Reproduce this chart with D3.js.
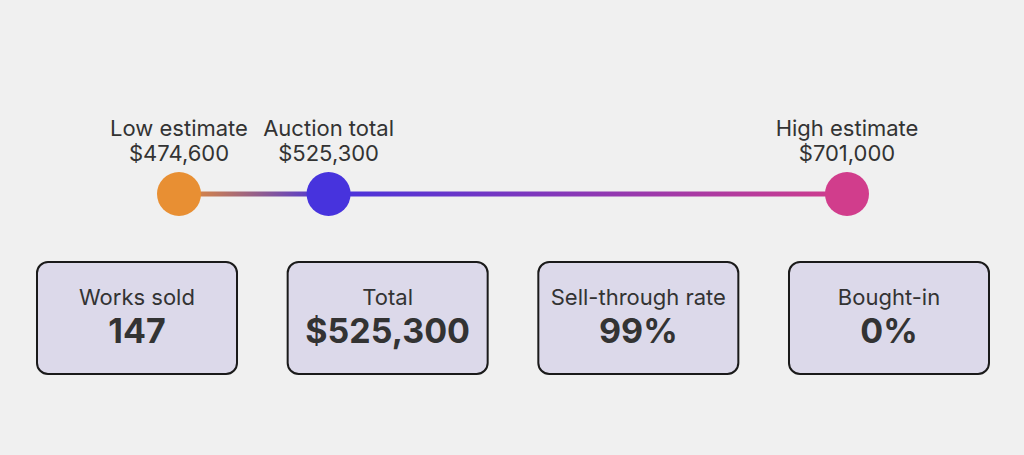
<!DOCTYPE html>
<html>
<head>
  <meta charset="utf-8">
  <title>Auction result</title>
  <script src="https://d3js.org/d3.v7.min.js"></script>
  <style>
    body { margin: 0; background: #f0f0f0; font-family: Inter, "Noto Sans", sans-serif; }
  </style>
</head>
<body>
  <div id="chart"></div>
  <script>
    // points on the estimate line
    var pointNames = ['Low estimate', 'Auction total', 'High estimate'];
    var pointValues = [474600, 525300, 701000];
    var pointColors = ['#e88f33', '#4733dd', '#d13d8c'];

    // summary boxes
    var statLabels = ['Works sold', 'Total', 'Sell-through rate', 'Bought-in'];
    var statValues = ['147', '$525,300', '99%', '0%'];

    var width = 1024, height = 455;
    var fmt = d3.format('$,');

    var svg = d3.select('#chart').append('svg')
      .attr('width', width)
      .attr('height', height);

    svg.append('rect').attr('width', width).attr('height', height).attr('fill', '#f0f0f0');

    var x = d3.scaleLinear()
      .domain([d3.min(pointValues), d3.max(pointValues)])
      .range([179, 847]);

    var lineY = 194;

    // gradient along the line, stops at each point
    var grad = svg.append('defs').append('linearGradient')
      .attr('id', 'lineGrad')
      .attr('gradientUnits', 'userSpaceOnUse')
      .attr('x1', x.range()[0]).attr('x2', x.range()[1])
      .attr('y1', 0).attr('y2', 0);
    grad.selectAll('stop')
      .data(pointValues)
      .enter().append('stop')
        .attr('offset', function (d) { return (x(d) - x.range()[0]) / (x.range()[1] - x.range()[0]); })
        .attr('stop-color', function (d, i) { return pointColors[i]; });

    svg.append('line')
      .attr('x1', x(d3.min(pointValues)))
      .attr('x2', x(d3.max(pointValues)))
      .attr('y1', lineY).attr('y2', lineY)
      .attr('stroke', 'url(#lineGrad)')
      .attr('stroke-width', 5);

    var pts = svg.selectAll('.pt')
      .data(pointValues)
      .enter().append('g')
        .attr('class', 'pt')
        .attr('transform', function (d) { return 'translate(' + x(d) + ',' + lineY + ')'; });

    pts.append('circle')
      .attr('r', 22)
      .attr('fill', function (d, i) { return pointColors[i]; });

    pts.append('text')
      .attr('y', -58)
      .attr('text-anchor', 'middle')
      .attr('font-size', 22)
      .attr('fill', '#333')
      .text(function (d, i) { return pointNames[i]; });

    pts.append('text')
      .attr('y', -33)
      .attr('text-anchor', 'middle')
      .attr('font-size', 22)
      .attr('fill', '#333')
      .text(function (d) { return fmt(d); });

    // boxes
    var bx = d3.scaleBand()
      .domain(statLabels)
      .range([37, 989])
      .paddingInner(0.2021)
      .paddingOuter(0);

    var boxes = svg.selectAll('.box')
      .data(statLabels)
      .enter().append('g')
        .attr('class', 'box')
        .attr('transform', function (d) { return 'translate(' + bx(d) + ',262)'; });

    boxes.append('rect')
      .attr('width', bx.bandwidth())
      .attr('height', 112)
      .attr('rx', 11)
      .attr('fill', '#dcd9ea')
      .attr('stroke', '#1a1a1a')
      .attr('stroke-width', 2);

    boxes.append('text')
      .attr('x', bx.bandwidth() / 2)
      .attr('y', 43)
      .attr('text-anchor', 'middle')
      .attr('font-size', 22)
      .attr('fill', '#333')
      .text(function (d) { return d; });

    boxes.append('text')
      .attr('x', bx.bandwidth() / 2)
      .attr('y', 81)
      .attr('text-anchor', 'middle')
      .attr('font-size', 34)
      .attr('font-weight', 'bold')
      .attr('fill', '#333')
      .text(function (d, i) { return statValues[i]; });
  </script>
</body>
</html>
